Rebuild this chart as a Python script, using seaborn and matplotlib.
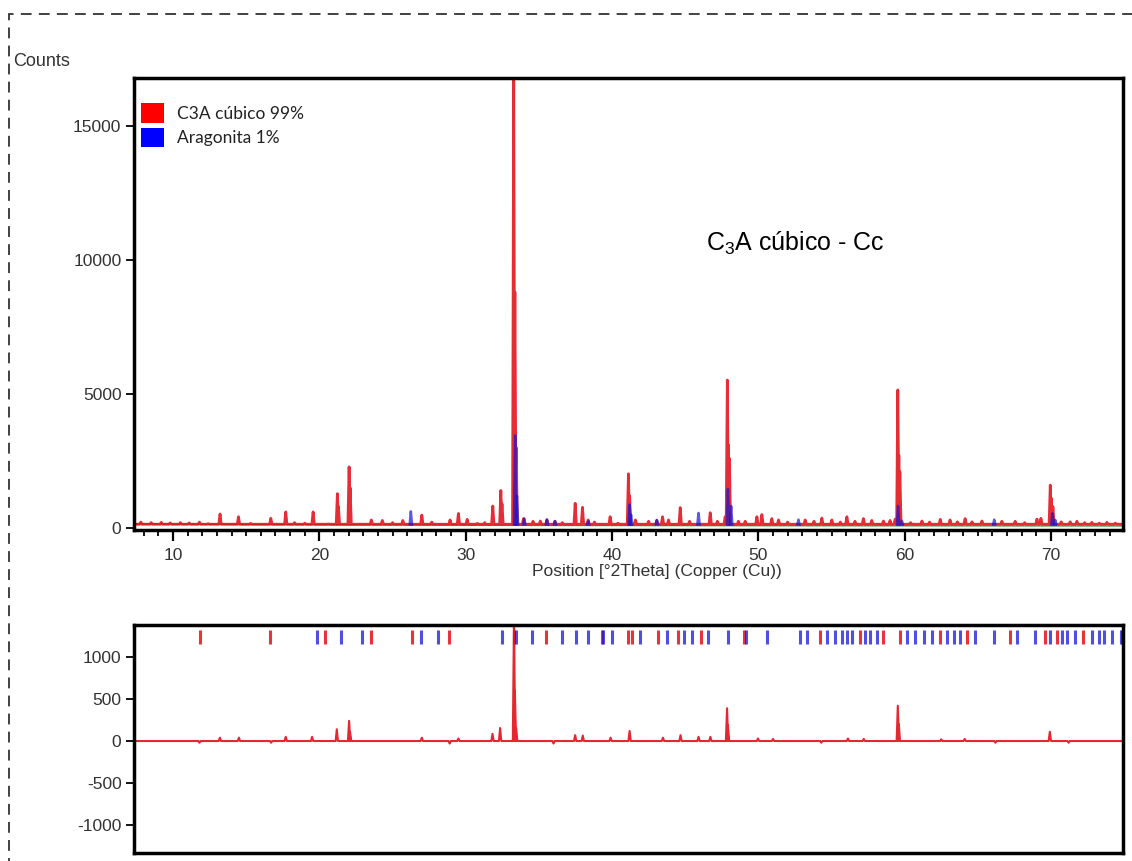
import numpy as np
import pandas as pd
import seaborn as sns
import matplotlib.pyplot as plt
import matplotlib as mpl
import matplotlib.patches as mpatches
from matplotlib.ticker import MultipleLocator

sns.set_style('ticks')
mpl.rcParams['font.family'] = ['Liberation Sans', 'DejaVu Sans']
mpl.rcParams['axes.unicode_minus'] = False
mpl.rcParams['mathtext.default'] = 'regular'

RED = '#e30f18'
BLUE = '#1414d8'
GREEN = '#4f9a4f'
TXT = '#333333'

##### MEASURED PATTERN (2theta, counts)
bg_pos = [7.33, 15.0, 25.0, 35.0, 50.0, 74.92]
bg_cnt = [160, 130, 110, 95, 85, 75]
BASE = 140

c3a_pos = [7.8, 8.5, 9.2, 9.8, 10.5, 11.1, 11.8, 12.4, 13.21, 14.47, 15.3, 16.68, 17.70, 18.3,
           19.0, 19.57, 20.6, 21.23, 21.30, 22.03, 22.10, 23.55, 24.3, 25.0, 25.70, 27.0, 27.68,
           28.93, 29.5, 30.1, 30.8, 31.3, 31.85, 32.40, 32.48, 33.28, 33.36, 33.45, 33.95, 34.6,
           35.1, 35.55, 36.1, 36.6, 37.48, 37.98, 38.37, 38.8, 39.87, 40.4, 41.12, 41.20, 41.6,
           42.5, 43.06, 43.45, 43.86, 44.66, 45.3, 46.71, 47.2, 47.73, 47.88, 47.95, 48.02, 48.64,
           49.1, 49.9, 50.24, 50.92, 51.38, 52.0, 53.2, 53.8, 54.34, 55.02, 55.6, 56.05, 56.6,
           57.18, 57.75, 58.55, 59.0, 59.35, 59.53, 59.60, 59.67, 60.4, 61.18, 61.7, 62.43, 63.1,
           63.6, 64.13, 64.6, 65.28, 66.64, 67.55, 68.2, 69.04, 69.31, 69.95, 70.02, 70.13, 70.7,
           71.31, 71.77, 72.3, 72.79, 73.3, 73.82, 74.4]
c3a_cnt = [220, 200, 210, 190, 200, 190, 220, 160, 520, 420, 170, 360, 600, 200,
           180, 600, 150, 1280, 800, 2280, 1500, 300, 280, 200, 280, 480, 220,
           300, 540, 320, 170, 200, 820, 1400, 900, 16900, 8800, 3000, 350, 250,
           260, 300, 250, 200, 920, 770, 300, 220, 420, 180, 2020, 1200, 300,
           250, 280, 420, 300, 760, 250, 570, 250, 420, 5520, 3100, 2600, 250,
           250, 420, 500, 350, 300, 220, 300, 250, 370, 300, 220, 420, 250,
           350, 280, 260, 280, 330, 5150, 2720, 2100, 200, 260, 220, 320, 300,
           230, 350, 230, 260, 250, 250, 200, 330, 360, 1600, 1120, 800, 230,
           230, 250, 200, 210, 180, 210, 180]

arag_pos = [26.25, 33.38, 33.50, 34.0, 35.55, 36.1, 38.37, 41.20, 41.30, 43.06, 45.91, 47.92,
            48.14, 52.74, 59.55, 59.81, 66.12, 70.10, 70.29]
arag_cnt = [620, 3450, 1200, 350, 320, 260, 250, 870, 500, 300, 560, 1450,
            820, 310, 820, 270, 310, 550, 300]

##### DIFFERENCE PLOT
diff_pos = [11.8, 13.2, 14.5, 16.7, 17.7, 19.5, 21.19, 22.03, 22.10, 27.0, 28.9, 29.5, 31.83,
            32.35, 33.30, 33.36, 33.45, 36.0, 37.48, 38.0, 39.9, 41.2, 43.48, 44.68, 45.91,
            46.72, 47.86, 47.92, 49.97, 51.0, 54.3, 56.12, 57.2, 59.53, 59.60, 62.5, 64.1,
            66.2, 69.92, 71.2]
diff_val = [-20, 40, 40, -20, 50, 50, 140, 240, 100, 40, -30, 30, 85,
            155, 1500, 600, 150, -30, 70, 65, 40, 120, 40, 70, 50,
            50, 390, 190, 30, 25, -20, 30, 25, 420, 200, 20, 25,
            -20, 110, -20]

##### REFERENCE REFLECTIONS
ref_c3a = [11.82, 16.63, 20.37, 23.51, 26.31, 28.87, 33.30, 35.52, 39.30, 41.12, 41.35, 43.17,
           44.54, 46.09, 49.05, 54.22, 56.96, 58.55, 59.69, 62.43, 64.25, 67.21, 69.60, 70.40,
           72.22, 74.85]
ref_arag = [19.82, 21.46, 22.94, 26.93, 28.13, 32.51, 33.45, 34.56, 36.57, 37.53, 38.37, 39.40,
            40.03, 41.92, 43.74, 44.93, 45.45, 46.55, 47.91, 49.15, 50.58, 52.86, 53.31, 54.68,
            55.25, 55.71, 56.05, 56.39, 57.30, 57.64, 58.10, 60.15, 60.72, 61.29, 61.86, 62.88,
            63.34, 63.79, 64.82, 66.07, 67.67, 68.92, 69.95, 70.74, 71.09, 71.65, 72.79, 73.25,
            73.59, 74.16, 74.80]

HW = 0.08  # half width of a drawn peak, deg


def profile(pos, cnt, base, start=None, end=None):
    rows = []
    if start is not None:
        rows.append((0, start, base))
    for i, (p, c) in enumerate(zip(pos, cnt)):
        rows += [(i, p - HW, base), (i, p, c), (i, p + HW, base)]
    if end is not None:
        rows.append((len(pos) - 1, end, base))
    return pd.DataFrame(rows, columns=['peak', 'two_theta', 'counts'])


df_bg = pd.DataFrame({'two_theta': bg_pos, 'counts': bg_cnt})
df_c3a = profile(c3a_pos, c3a_cnt, BASE, bg_pos[0], bg_pos[-1])
df_arag = profile(arag_pos, arag_cnt, BASE - 20)
df_diff = profile(diff_pos, diff_val, 0, bg_pos[0], bg_pos[-1])

fig = plt.figure(figsize=(11.32, 8.61), dpi=100)
ax = fig.add_axes([134 / 1132, 1 - 530 / 861, 989 / 1132, 452 / 861])
ax2 = fig.add_axes([134 / 1132, 1 - 853 / 861, 989 / 1132, 228 / 861])

sns.lineplot(data=df_bg, x='two_theta', y='counts', color=GREEN, lw=1.0, ax=ax,
             estimator=None, sort=False)
sns.lineplot(data=df_c3a, x='two_theta', y='counts', color=RED, lw=2.0, alpha=0.88, ax=ax,
             estimator=None, sort=False)
sns.lineplot(data=df_arag, x='two_theta', y='counts', units='peak', color=BLUE, lw=1.8,
             alpha=0.7, ax=ax, estimator=None, sort=False)
sns.lineplot(data=df_diff, x='two_theta', y='counts', color=RED, lw=1.5, alpha=0.9, ax=ax2,
             estimator=None, sort=False)

ax2.vlines(ref_c3a, 1150, 1320, color=RED, lw=2.2, alpha=0.85)
ax2.vlines(ref_arag, 1150, 1320, color=BLUE, lw=2.2, alpha=0.75)

for a in (ax, ax2):
    a.set_xlim(7.33, 74.92)
    a.set_xlabel('')
    a.set_ylabel('')
    for s in a.spines.values():
        s.set_visible(True)
        s.set_linewidth(2.5)
        s.set_color('black')
    a.tick_params(axis='both', which='both', direction='out', labelsize=12.5, labelcolor=TXT,
                  color='black')

ax.set_ylim(-75, 16790)
ax.yaxis.set_major_locator(MultipleLocator(5000))
ax.xaxis.set_major_locator(MultipleLocator(10))
ax.xaxis.set_minor_locator(MultipleLocator(1))
ax.tick_params(axis='x', which='major', length=8, width=1.6, pad=5)
ax.tick_params(axis='x', which='minor', length=4, width=1.3)
ax.tick_params(axis='y', which='major', length=6, width=1.3, pad=3)
ax.set_xlabel('Position [°2Theta] (Copper (Cu))', fontsize=12.5, color=TXT, labelpad=2)
ax.xaxis.set_label_coords(0.529, -0.075)

ax2.set_ylim(-1333, 1381)
ax2.set_yticks([-1000, -500, 0, 500, 1000])
ax2.tick_params(axis='y', length=6, width=1.3, pad=3)
ax2.tick_params(axis='x', which='both', bottom=False, labelbottom=False)

fig.text(13 / 1132, 1 - 62 / 861, 'Counts', ha='left', va='center', fontsize=13, color=TXT)

handles = [mpatches.Patch(facecolor='#ff0000', edgecolor='none', label='C3A cúbico 99%'),
           mpatches.Patch(facecolor='#0000ff', edgecolor='none', label='Aragonita 1%')]
ax.legend(handles=handles, loc='upper left', bbox_to_anchor=(0.0, 0.96), frameon=False,
          handlelength=1.35, handleheight=1.35, handletextpad=0.7, borderaxespad=0.2,
          borderpad=0.2, labelspacing=0.3, labelcolor='#222222',
          prop={'family': 'Lato', 'size': 12.5})

ax.text(0.669, 0.635, 'C$_3$A cúbico - Cc', transform=ax.transAxes, ha='center',
        va='center', fontsize=18, color='black')

border = mpatches.Rectangle((9 / 1132, -0.1), 1.2, 1.1 - 14 / 861, transform=fig.transFigure,
                            fill=False, edgecolor='#333333', lw=1.3, linestyle=(0, (6, 4)))
fig.patches.append(border)

fig.savefig('out.png', dpi=100)
